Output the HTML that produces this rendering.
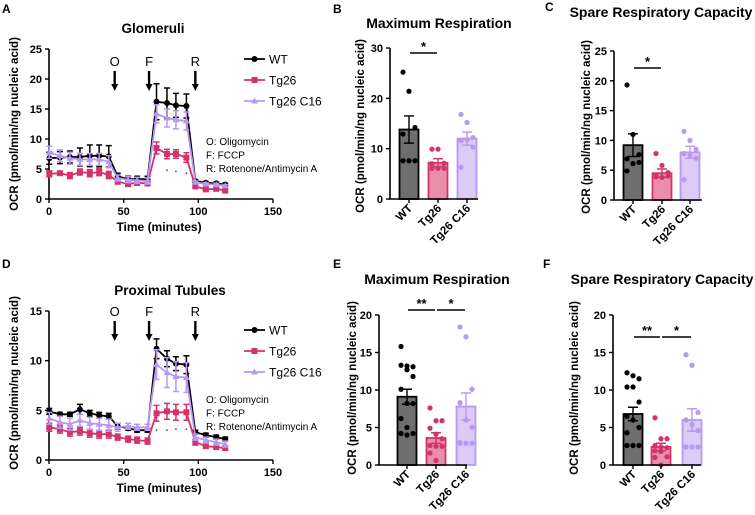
<!DOCTYPE html>
<html><head><meta charset="utf-8">
<style>
html,body{margin:0;padding:0;background:#fff;}
svg{display:block;font-family:"Liberation Sans",Arial,sans-serif;}
.t{font-weight:bold;}
</style></head>
<body>
<svg id="fig" width="755" height="515" viewBox="0 0 755 515" xmlns="http://www.w3.org/2000/svg"></svg>
<script>
// ===== Line chart data =====
const times = [0.2,7.3,14,20.7,27.3,33.6,40,46,53,59,66,72,79,85,92,98,105,112,118];
const glomWT = [6.8,6.9,7,7,7.2,7.2,7.1,3.8,3.3,3.3,3.3,16.2,16,15.6,15.5,3.0,2.7,2.6,2.4];
const glomWTerr = [1,1,1,1.5,1.8,1.8,1.8,0.5,0.5,0.5,0.5,3,2.5,2,2,0.2,0.2,0.2,0.2];
const glomTg = [4.2,4.3,3.9,4.5,4.3,4.5,4.0,2.9,2.5,2.7,2.6,8.5,7.5,7.5,6.9,2.1,1.6,1.7,1.4];
const glomTgerr = [0.5,0.3,0.5,0.5,0.6,0.6,0.6,0.4,0.4,0.4,0.4,1,0.8,0.7,0.8,0.2,0.2,0.2,0.2];
const glomC16 = [7.8,7.2,6.8,6.6,6.6,6.6,6.2,3.5,3.2,3.1,3.0,14.2,13.5,13.2,13,2.8,2.5,2.4,2.2];
const glomC16err = [1,1,1,1,1,1,1,0.5,0.5,0.5,0.5,1.5,1.5,1.5,1.5,0.2,0.2,0.2,0.2];
const glomDotT = [79,85,92];
const glomDot = [4.8,4.6,4.3];
const ptWT = [4.9,4.6,4.6,5.1,4.7,4.5,4.4,3.4,3.2,3.0,3.0,11.2,10.2,9.7,9.6,2.8,2.5,2.3,2.1];
const ptWTerr = [0.3,0.2,0.2,0.5,0.3,0.3,0.3,0.3,0.2,0.2,0.2,1,0.8,0.7,0.9,0.2,0.2,0.2,0.2];
const ptTg = [3.3,3.1,2.8,2.9,2.7,2.6,2.6,2.3,2.1,2.0,1.9,4.7,4.9,4.8,4.8,1.8,1.4,1.3,1.2];
const ptTgerr = [0.4,0.4,0.4,0.4,0.4,0.4,0.4,0.3,0.3,0.3,0.3,0.8,0.8,0.8,0.8,0.3,0.2,0.2,0.2];
const ptC16 = [4.2,3.8,3.6,4.0,3.7,3.6,3.5,3.3,3.4,3.3,3.3,9.6,8.8,8.4,8.3,2.3,2.0,1.8,1.6];
const ptC16err = [0.6,0.6,0.6,0.6,0.6,0.6,0.6,0.4,0.3,0.3,0.3,1.5,1.5,1.5,1.5,0.3,0.3,0.3,0.3];
const ptDotT = [72,79,85,92];
const ptDot = [3.0,3.0,3.1,3.1];
const xTicks = [0,50,100,150];
const glomYTicks = [0,5,10,15,20,25];
const ptYTicks = [0,5,10,15];
const injections = ["O","F","R"];
const injTimes = [44,67,98];

// ===== Bar chart data =====
const groups = ["WT","Tg26","Tg26 C16"];
const bMeans = [13.8,7.2,12.0], bErr = [2.7,0.8,1.3];
const bWT = [25.2,21.4,14.2,12.9,7.6,7.6,7.6];
const bTg = [9.9,9.9,7.1,7.0,6.1,6.1,6.1];
const bC16 = [16.8,15.2,12.2,11.6,11.8,10.3,6.3];
const cMeans = [9.2,4.5,8.0], cErr = [1.9,0.7,1.0];
const cWT = [19.3,11.0,7.6,6.9,6.1,6.3,4.9];
const cTg = [7.8,5.8,4.6,4.2,3.8,4.0,3.9];
const cC16 = [11.5,10.0,8.5,7.8,7.5,7.0,3.4];
const eMeans = [9.1,3.6,7.8], eErr = [1.0,0.7,1.8];
const eWT = [15.8,13.2,13.1,13.3,12.7,11.8,10.1,8.2,8.2,6.2,5.0,4.2,4.2,4.0];
const eTg = [7.6,5.9,5.9,4.9,4.1,3.5,2.6,2.5,2.5,1.6,0.6];
const eC16 = [18.4,17.1,10.1,8.3,6.0,5.0,3.0,2.9,2.9,2.9];
const fMeans = [6.8,2.4,6.0], fErr = [0.9,0.5,1.5];
const fWT = [12.3,11.9,11.5,10.4,10.4,8.4,6.5,6.0,5.0,4.3,2.6,2.6,2.6,2.6];
const fTg = [6.3,3.5,3.5,2.6,2.4,2.3,1.9,1.8,1.1,1.0,0.0];
const fC16 = [14.7,13.3,7.0,6.0,5.4,4.6,2.4,2.4,2.4,2.4];
const yt30 = [0,10,20,30], yt25 = [0,5,10,15,20,25], yt20 = [0,5,10,15,20];

const NS="http://www.w3.org/2000/svg";
const svg=document.getElementById('fig');
function mk(tag,attrs,parent,text){const e=document.createElementNS(NS,tag);for(const k in attrs)e.setAttribute(k,attrs[k]);if(text!==undefined)e.textContent=text;(parent||svg).appendChild(e);return e;}
const COL={wt:"#000",tg:"#d4326a",c16:"#b898f2"};

function lineChart(o){
  const g=mk('g',{});
  
  
  const X=t=>o.x0+(t/150)*(o.x1-o.x0);
  const Y=v=>o.y0-(v/o.ymax)*(o.y0-o.y1);
  const ax=mk('path',{d:`M${o.x0},${o.y1}V${o.y0}H${o.x1}`,stroke:"#000","stroke-width":1.6,fill:"none"},g);
  
  o.yt.forEach(v=>{mk('line',{x1:o.x0-4,x2:o.x0,y1:Y(v),y2:Y(v),stroke:"#000","stroke-width":1.4},g);
    const t=mk('text',{x:o.x0-7,y:Y(v)+4,"text-anchor":"end","font-size":11,class:"t"},g,v);});
  xTicks.forEach(v=>{mk('line',{x1:X(v),x2:X(v),y1:o.y0,y2:o.y0+4,stroke:"#000","stroke-width":1.4},g);
    const t=mk('text',{x:X(v),y:o.y0+16,"text-anchor":"middle","font-size":11,class:"t"},g,v);});
  let t=mk('text',{x:(o.x0+o.x1)/2-2,y:o.y0+32,"text-anchor":"middle","font-size":12,class:"t"},g,"Time (minutes)");
  
  t=mk('text',{x:0,y:0,transform:`translate(18,${o.yc}) rotate(-90)`,"text-anchor":"middle","font-size":11.5,class:"t"},g,"OCR (pmol/min/ng nucleic acid)");
  
  t=mk('text',{x:o.tx,y:o.ty,"text-anchor":"middle","font-size":13.5,class:"t"},g,o.title);
  
  injections.forEach((s,i)=>{const x=X(injTimes[i]);
    const l=mk('text',{x:x,y:o.iy,"text-anchor":"middle","font-size":13},g,s);
    mk('line',{x1:x,x2:x,y1:o.iy+5,y2:o.iy+20,stroke:"#000","stroke-width":2.4},g);
    mk('path',{d:`M${x-3.5},${o.iy+18}L${x+3.5},${o.iy+18}L${x},${o.iy+25}Z`,fill:"#000"},g);});
  o.dot[1].forEach((v,i)=>{const c=mk('circle',{cx:X(o.dot[0][i]),cy:Y(v),r:0.9,fill:"#555"},g);});
  o.series.forEach(s=>{
    const sg=mk('g',{},g);
    s.v.forEach((v,i)=>{const x=X(times[i]);mk('path',{d:`M${x},${Y(v-s.e[i])}V${Y(v+s.e[i])}M${x-3},${Y(v+s.e[i])}h6M${x-3},${Y(v-s.e[i])}h6`,stroke:s.c,"stroke-width":1.5,fill:"none"},sg);});
    mk('polyline',{points:s.v.map((v,i)=>X(times[i])+","+Y(v)).join(" "),stroke:s.c,"stroke-width":1.8,fill:"none"},sg);
    s.v.forEach((v,i)=>{const x=X(times[i]),y=Y(v);let m;
      if(s.m==='c')m=mk('circle',{cx:x,cy:y,r:3,fill:s.c},sg);
      else if(s.m==='s')m=mk('rect',{x:x-3,y:y-3,width:6,height:6,fill:s.c},sg);
      else m=mk('path',{d:`M${x},${y-3.5}L${x+3.5},${y+2.5}L${x-3.5},${y+2.5}Z`,fill:s.c},sg);
      });
  });
  const lg=mk('g',{},g);
  [["WT",COL.wt,'c'],["Tg26",COL.tg,'s'],["Tg26 C16",COL.c16,'t']].forEach((e,i)=>{const y=o.ly+i*21;
    const eg=mk('g',{},lg);
    mk('line',{x1:244,x2:265,y1:y,y2:y,stroke:e[1],"stroke-width":1.8},eg);
    if(e[2]==='c')mk('circle',{cx:254.5,cy:y,r:3,fill:e[1]},eg);else if(e[2]==='s')mk('rect',{x:251.5,y:y-3,width:6,height:6,fill:e[1]},eg);else mk('path',{d:`M254.5,${y-3.5}L258,${y+2.5}L251,${y+2.5}Z`,fill:e[1]},eg);
    mk('text',{x:269,y:y+4.5,"font-size":12},eg,e[0]);});
  ["O: Oligomycin","F: FCCP","R: Rotenone/Antimycin A"].forEach((s,i)=>{const a=mk('text',{x:206,y:o.ay+i*13.5,"font-size":10},g,s);});
}

function barChart(o){
  const g=mk('g',{});
  const Y=v=>o.y0-(v/o.ymax)*(o.y0-o.y1);
  const fills=["#6e6e6e","#ea8fab","#dccbf7"],strokes=["#000","#d4326a","#b898f2"],dots=["#000","#d4326a","#b898f2"];
  const cx=o.cx,bw=19;
  o.means.forEach((m,i)=>{const b=mk('rect',{x:cx[i]-bw/2,y:Y(m),width:bw,height:o.y0-Y(m),fill:fills[i],stroke:strokes[i],"stroke-width":1.8},g);});
  o.pts.forEach((arr,i)=>{arr.forEach((v,j)=>{const off=(j%3-1)*6;const c=mk('circle',{cx:cx[i]+off,cy:Y(v),r:2.6,fill:dots[i]},g);});});
  o.means.forEach((m,i)=>{const e=mk('path',{d:`M${cx[i]},${Y(m-o.err[i])}V${Y(m+o.err[i])}M${cx[i]-5},${Y(m+o.err[i])}h10M${cx[i]-5},${Y(m-o.err[i])}h10`,stroke:i==0?"#000":strokes[i],"stroke-width":1.4,fill:"none"},g);});
  mk('path',{d:`M${o.x0},${o.y1}V${o.y0}H${o.x0+88}`,stroke:"#000","stroke-width":1.6,fill:"none"},g);
  o.yt.forEach(v=>{mk('line',{x1:o.x0-4,x2:o.x0,y1:Y(v),y2:Y(v),stroke:"#000","stroke-width":1.4},g);
    const t=mk('text',{x:o.x0-7,y:Y(v)+4,"text-anchor":"end","font-size":11,class:"t"},g,v);});
  groups.forEach((s,i)=>{mk('line',{x1:cx[i],x2:cx[i],y1:o.y0,y2:o.y0+4,stroke:"#000","stroke-width":1.4},g);
    const t=mk('text',{x:0,y:0,transform:`translate(${cx[i]+4},${o.y0+10}) rotate(-45)`,"text-anchor":"end","font-size":11.5,class:"t"},g,s);});
  let t=mk('text',{x:0,y:0,transform:`translate(${o.yx},${o.yc}) rotate(-90)`,"text-anchor":"middle","font-size":11.5,class:"t"},g,"OCR (pmol/min/ng nucleic acid)");
  t=mk('text',{x:o.tx,y:o.ty,"text-anchor":"middle","font-size":14,class:"t"},g,o.title);
  o.sig.forEach(s=>{mk('line',{x1:cx[s[0]]+1,x2:cx[s[1]]-1,y1:o.sy,y2:o.sy,stroke:"#000","stroke-width":1.6},g);
    const st=mk('text',{x:(cx[s[0]]+cx[s[1]])/2,y:o.sy-2,"text-anchor":"middle","font-size":13,class:"t"},g,s[2]);});
}

lineChart({name:"glomeruli-chart",x0:49,x1:273,y0:199,y1:49,ymax:25,yt:glomYTicks,yc:124,tx:153,ty:33,title:"Glomeruli",iy:66,ly:59,ay:145,
  dot:[glomDotT,glomDot],
  series:[{name:"series-wt",v:glomWT,e:glomWTerr,c:COL.wt,m:'c'},{name:"series-tg26",v:glomTg,e:glomTgerr,c:COL.tg,m:'s'},{name:"series-tg26-c16",v:glomC16,e:glomC16err,c:COL.c16,m:'t'}]});
lineChart({name:"proximal-tubules-chart",x0:49,x1:273,y0:460,y1:311,ymax:15,yt:ptYTicks,yc:383,tx:170,ty:295,title:"Proximal Tubules",iy:316,ly:330,ay:403,
  dot:[ptDotT,ptDot],
  series:[{name:"series-wt",v:ptWT,e:ptWTerr,c:COL.wt,m:'c'},{name:"series-tg26",v:ptTg,e:ptTgerr,c:COL.tg,m:'s'},{name:"series-tg26-c16",v:ptC16,e:ptC16err,c:COL.c16,m:'t'}]});
barChart({name:"glom-max-respiration-chart",x0:390,y0:199,y1:48,ymax:30,yt:yt30,cx:[409,438,467],means:bMeans,err:bErr,pts:[bWT,bTg,bC16],yx:364,yc:126,tx:439,ty:28,title:"Maximum Respiration",sy:53,sig:[[0,1,"*"]]});
barChart({name:"glom-spare-capacity-chart",x0:614,y0:200,y1:51,ymax:25,yt:yt25,cx:[633,662,690],means:cMeans,err:cErr,pts:[cWT,cTg,cC16],yx:590,yc:127,tx:661,ty:17,title:"Spare Respiratory Capacity",sy:68,sig:[[0,1,"*"]]});
barChart({name:"pt-max-respiration-chart",x0:379,y0:465,y1:315,ymax:20,yt:yt20,cx:[407,436,466],means:eMeans,err:eErr,pts:[eWT,eTg,eC16],yx:356,yc:388,tx:437,ty:284,title:"Maximum Respiration",sy:310,sig:[[0,1,"**"],[1,2,"*"]]});
barChart({name:"pt-spare-capacity-chart",x0:613,y0:465,y1:315,ymax:20,yt:yt20,cx:[633,661,692],means:fMeans,err:fErr,pts:[fWT,fTg,fC16],yx:578,yc:388,tx:662,ty:284,title:"Spare Respiratory Capacity",sy:337,sig:[[0,1,"**"],[1,2,"*"]]});

[["A",2,13],["B",333,13],["C",545,11],["D",2,268],["E",333,268],["F",543,268]].forEach(p=>{const t=mk('text',{x:p[1],y:p[2],"font-size":12,class:"t"},svg,p[0]);});
</script>
</body></html>
